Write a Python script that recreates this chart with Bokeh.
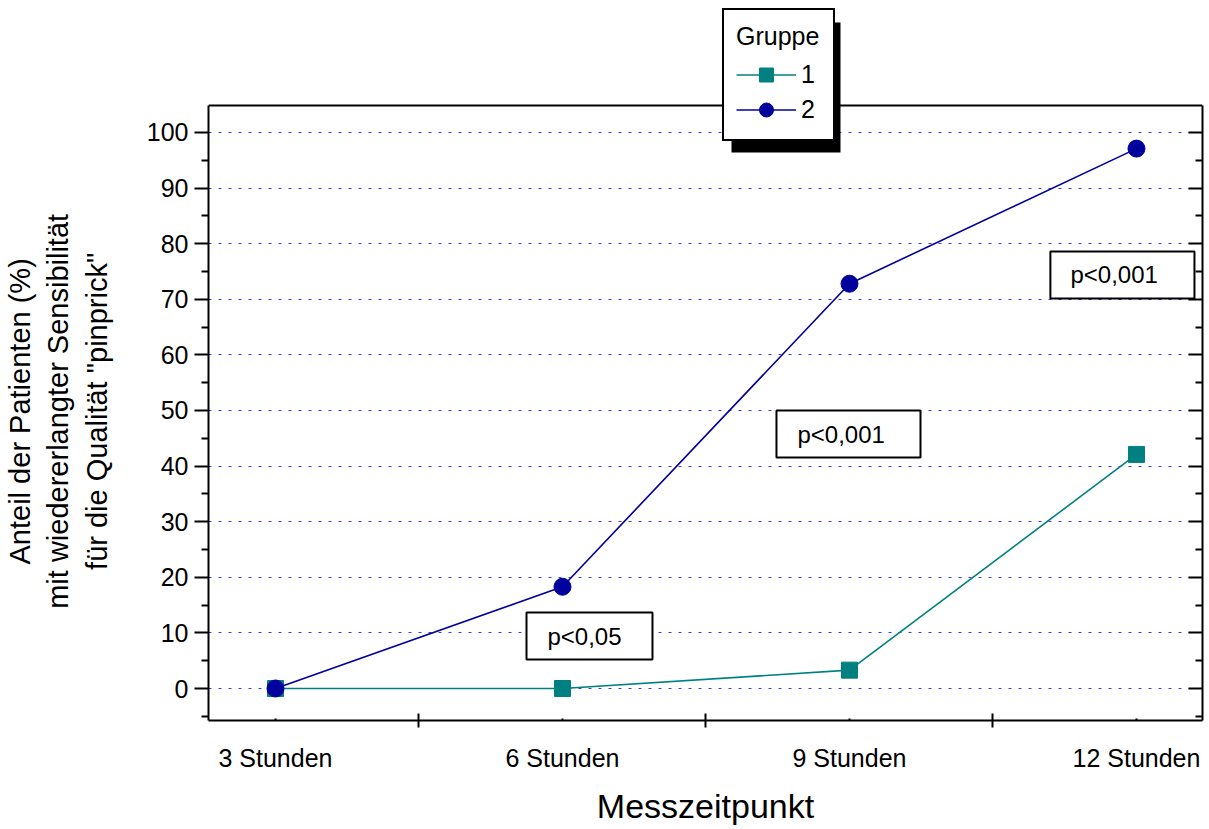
from bokeh.plotting import figure
from bokeh.models import (Range1d, FixedTicker, LinearAxis, Legend, LegendItem,
                          BoxAnnotation, Label, Span)
from bokeh.embed import file_html
from bokeh.resources import INLINE

categories = ["3 Stunden", "6 Stunden", "9 Stunden", "12 Stunden"]
gruppe1 = [0, 0, 3.3, 42.1]
gruppe2 = [0, 18.3, 72.8, 97.1]
y_ticks = [0, 10, 20, 30, 40, 50, 60, 70, 80, 90, 100]
y_minor = [-5, 5, 15, 25, 35, 45, 55, 65, 75, 85, 95]
p_labels = ["p<0,05", "p<0,001", "p<0,001"]
y_title_lines = ["Anteil der Patienten (%)", "mit wiedererlangter Sensibilität",
                 'für die Qualität "pinprick"']

FONT = "Liberation Sans"
C1 = "#008080"
C2 = "#00009c"

xs = list(range(len(categories)))

Y_LO, Y_HI = -5.755, 104.86      # visible plot box
Y_TOP = 122.84                   # frame extends up to hold the legend

p = figure(x_range=Range1d(-0.2334, 3.2300), y_range=Range1d(Y_LO, Y_TOP),
           frame_width=994, frame_height=715,
           min_border_left=208, min_border_right=2, min_border_top=5, min_border_bottom=109,
           output_backend="svg", toolbar_location=None, background_fill_color="white",
           border_fill_color="white")

p.outline_line_color = None
p.xgrid.visible = False
p.ygrid.ticker = FixedTicker(ticks=y_ticks)
p.ygrid.grid_line_color = "#3a3aff"
p.ygrid.grid_line_dash = "3 7"
p.ygrid.grid_line_width = 1

# bottom axis
xa = p.xaxis[0]
xa.ticker = FixedTicker(ticks=xs, minor_ticks=[0.5, 1.5, 2.5])
xa.major_label_overrides = {i: c for i, c in zip(xs, categories)}
xa.major_tick_in = 2
xa.major_tick_out = 0
xa.minor_tick_in = 7
xa.minor_tick_out = 7
xa.major_tick_line_width = 2
xa.minor_tick_line_width = 2
xa.axis_line_width = 2
xa.major_label_text_font = FONT
xa.major_label_text_font_size = "25px"
xa.major_label_text_color = "black"
xa.major_label_standoff = 16
xa.axis_label = "Messzeitpunkt"
xa.axis_label_text_font = FONT
xa.axis_label_text_font_size = "34px"
xa.axis_label_text_font_style = "normal"
xa.axis_label_text_color = "black"
xa.axis_label_standoff = 12

# left axis; the title is centred on the whole (taller) frame, so pad each
# line at its end to move the block down onto the visible plot box
pad = "\u00a0" * 12
ya = p.yaxis[0]
ya.bounds = (Y_LO, Y_HI)
ya.ticker = FixedTicker(ticks=y_ticks, minor_ticks=y_minor)
ya.major_tick_in = 0
ya.major_tick_out = 14
ya.minor_tick_in = 0
ya.minor_tick_out = 7
ya.major_tick_line_width = 2
ya.minor_tick_line_width = 2
ya.axis_line_width = 2
ya.major_label_text_font = FONT
ya.major_label_text_font_size = "25px"
ya.major_label_text_color = "black"
ya.major_label_standoff = 6
ya.axis_label = "\n".join(line + pad for line in y_title_lines)
ya.axis_label_text_font = FONT
ya.axis_label_text_font_size = "29px"
ya.axis_label_text_font_style = "normal"
ya.axis_label_text_color = "black"
ya.axis_label_standoff = 31

# right axis (ticks inside, no labels)
ra = LinearAxis(ticker=FixedTicker(ticks=y_ticks, minor_ticks=y_minor), bounds=(Y_LO, Y_HI),
                major_tick_in=14, major_tick_out=0, minor_tick_in=7, minor_tick_out=0,
                major_tick_line_width=2, minor_tick_line_width=2, axis_line_width=2,
                major_label_text_font_size="1px", major_label_text_color=None,
                major_label_standoff=0)
p.add_layout(ra, "right")

# top edge of the plot box
p.add_layout(Span(location=Y_HI, dimension="width", line_color="black", line_width=2))

# data
l1 = p.line(xs, gruppe1, line_color=C1, line_width=1.6)
l2 = p.line(xs, gruppe2, line_color=C2, line_width=1.6)
s1 = p.scatter(xs, gruppe1, marker="square", size=16, fill_color=C1,
               line_color=C1, line_width=1)
s2 = p.scatter(xs, gruppe2, marker="circle", size=17, fill_color=C2,
               line_color=C2, line_width=1)

# p-value boxes
boxes = [(0.8746, 1.3136, 13.67, 5.22), (1.7456, 2.2474, 50.0, 41.55), (2.700, 3.202, 78.6, 70.14)]
text_pos = [(0.9477, 9.44), (1.8188, 45.77), (2.770, 74.37)]
for (l, r, t, b), (tx, ty), txt in zip(boxes, text_pos, p_labels):
    p.add_layout(BoxAnnotation(left=l, right=r, top=t, bottom=b, fill_color="white",
                               fill_alpha=1, line_color="black", line_alpha=1,
                               line_width=2, level="annotation"))
    p.add_layout(Label(x=tx, y=ty, text=txt, text_font=FONT, text_font_size="24px",
                       text_align="left", text_baseline="middle", text_color="black"))

# legend shadow
p.add_layout(BoxAnnotation(left=523, right=632, top=698, bottom=568,
                           left_units="screen", right_units="screen",
                           top_units="screen", bottom_units="screen",
                           fill_color="black", fill_alpha=1, line_color="black",
                           line_alpha=0, level="annotation"))

legend = Legend(items=[LegendItem(label="1", renderers=[l1, s1]),
                       LegendItem(label="2", renderers=[l2, s2])],
                location=(514, 579), title="Gruppe",
                title_text_font=FONT, title_text_font_size="25px", title_text_font_style="normal",
                title_text_color="black", title_standoff=6,
                label_text_font=FONT, label_text_font_size="25px", label_text_color="black",
                glyph_width=60, glyph_height=35, label_standoff=5, spacing=0, padding=12,
                margin=0, border_line_color="black", border_line_alpha=1, border_line_width=2,
                background_fill_color="white", background_fill_alpha=1)
p.add_layout(legend, "center")

open("out.html", "w").write(file_html(p, INLINE))
